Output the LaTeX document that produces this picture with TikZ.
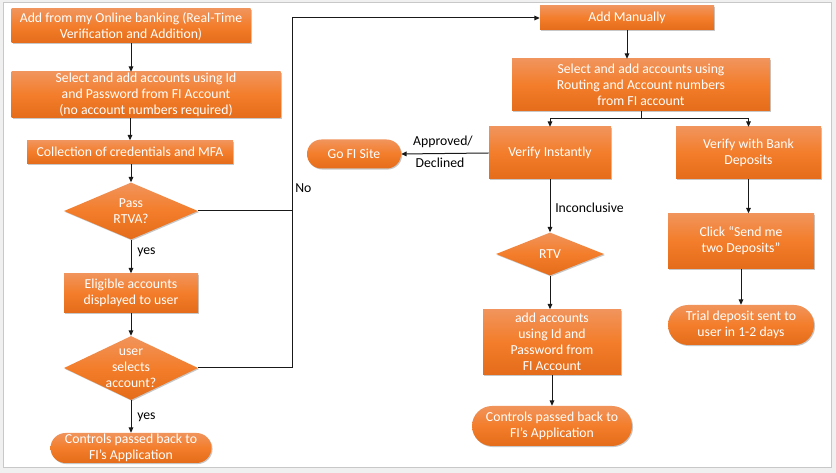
\documentclass[tikz,border=0pt]{standalone}
\usepackage{fontspec}
\setmainfont{Carlito}
\usetikzlibrary{shapes.geometric,shadows,arrows.meta}
\definecolor{ortop}{RGB}{241,148,92}
\definecolor{ormid}{RGB}{243,125,42}
\definecolor{orbot}{RGB}{228,108,26}
\definecolor{frm}{RGB}{200,200,200}
\definecolor{bgg}{RGB}{240,240,240}
\definecolor{ln}{RGB}{25,25,25}
\newcommand\fs{\fontsize{10.3}{12}\selectfont}
\begin{document}
\begin{tikzpicture}[x=0.75pt,y=-0.75pt,
 orange/.style={top color=ortop,bottom color=orbot,middle color=ormid,text=white,align=center,inner sep=0pt,font=\fs,
   drop shadow={shadow xshift=0.8pt,shadow yshift=-0.8pt,fill=black,opacity=0.22}},
 obox/.style={orange,rectangle},
 oterm/.style={orange,rectangle,rounded corners=#1},
 odia/.style={orange,diamond},
 conn/.style={draw=ln,line width=0.75pt},
 arr/.style={conn,-{Triangle[length=4pt,width=3.5pt]}},
 lbl/.style={font=\fs,text=black,inner sep=0pt},
 wtxt/.style={font=\fs,text=white,align=center,inner sep=0pt}]
\useasboundingbox (0,0) rectangle (836,473);
\fill[bgg] (0,0) rectangle (836,473);
\draw[frm,fill=white,line width=0.75pt] (3,3) rectangle (831,468);

% left column
\node[obox,minimum width=179.25pt,minimum height=25.5pt] (b1) at (131,26) {Add from my Online banking (Real-Time\\Verification and Addition)};
\node[obox,minimum width=201.75pt,minimum height=34.5pt] (b2) at (146,95) {Select and add accounts using Id\\ and Password from FI Account\\(no account numbers required)};
\node[obox,minimum width=154.5pt,minimum height=17.25pt] (b3) at (130,152) {Collection of credentials and MFA};
\node[odia,minimum width=100.5pt,minimum height=42.75pt] (d1) at (131,211) {};
\node[wtxt] (d1t) at (d1) {Pass\\RTVA?};
\node[obox,minimum width=100.5pt,minimum height=29.25pt] (b5) at (131,293) {Eligible accounts\\displayed to user};
\node[odia,minimum width=100.5pt,minimum height=48pt] (d2) at (131,368) {};
\node[wtxt] (d2t) at (d2) {user\\selects\\account?};
\node[oterm=11.25pt,minimum width=120.75pt,minimum height=22.5pt] (t1) at (131,448) {Controls passed back to\\FI’s Application};

% right part
\node[obox,minimum width=130.5pt,minimum height=18pt] (am) at (627,18) {Add Manually};
\node[obox,minimum width=193.5pt,minimum height=39pt] (rb) at (641,85) {Select and add accounts using\\Routing and Account numbers\\from FI account};
\node[obox,minimum width=91.5pt,minimum height=39pt] (vi) at (550,153) {Verify Instantly};
\node[obox,minimum width=108.75pt,minimum height=39pt] (vb) at (748.5,153) {Verify with Bank\\Deposits};
\node[oterm=10.8pt,minimum width=70.5pt,minimum height=21.75pt] (go) at (354,154) {Go FI Site};
\node[odia,minimum width=81pt,minimum height=32.25pt] (rtv) at (550,254) {};
\node[wtxt] (rtvt) at (rtv) {RTV};
\node[obox,minimum width=103.5pt,minimum height=48.75pt] (aa) at (552,342) {add accounts\\using Id and\\Password from\\FI Account};
\node[oterm=15pt,minimum width=120pt,minimum height=30pt] (t2) at (552,426) {Controls passed back to\\FI’s Application};
\node[obox,minimum width=109.5pt,minimum height=41.25pt] (cs) at (741,241) {Click “Send me\\two Deposits”};
\node[oterm=15pt,minimum width=109.5pt,minimum height=30pt] (td) at (741,325) {Trial deposit sent to\\user in 1-2 days};

\coordinate (jx) at (292,18);
\coordinate (br) at (641,119);

% connectors left
\draw[arr] (b1.south) -- (b1.south |- b2.north);
\draw[arr] (b3.north |- b2.south) -- (b3.north);
\draw[arr] (b3.south -| d1.north) -- (d1.north);
\draw[arr] (d1.south) -- (b5.north);
\draw[arr] (b5.south) -- (d2.north);
\draw[arr] (d2.south) -- (t1.north);
\draw[arr] (d1.east) -- (d1.east -| jx) -- (jx) -- (am.west);
\draw[conn] (d2.east) -| (jx |- d1.east);

% connectors right
\draw[arr] (am.south) -- (am.south |- rb.north);
\draw[conn] (rb.south) -- (br);
\draw[arr] (br) -| (vi.north);
\draw[arr] (br) -| (vb.north);
\draw[arr] (vi.west) -- (go.east);
\draw[arr] (vi.south) -- (rtv.north);
\draw[arr] (rtv.south) -- (rtv.south |- aa.north);
\draw[arr] (aa.south) -- (t2.north);
\draw[arr] (vb.south) -- (vb.south |- cs.north);
\draw[arr] (cs.south) -- (cs.south |- td.north);

% labels
\node[lbl,anchor=west] (y1) at (137,252) {yes};
\node[lbl,anchor=west] (y2) at (137,417) {yes};
\node[lbl,anchor=west] (no) at (295,188) {No};
\node[lbl] (ap) at (443,142) {Approved/};
\node[lbl] (de) at (440,163) {Declined};
\node[lbl,anchor=west] (inc) at (555,208) {Inconclusive};
\end{tikzpicture}
\end{document}
